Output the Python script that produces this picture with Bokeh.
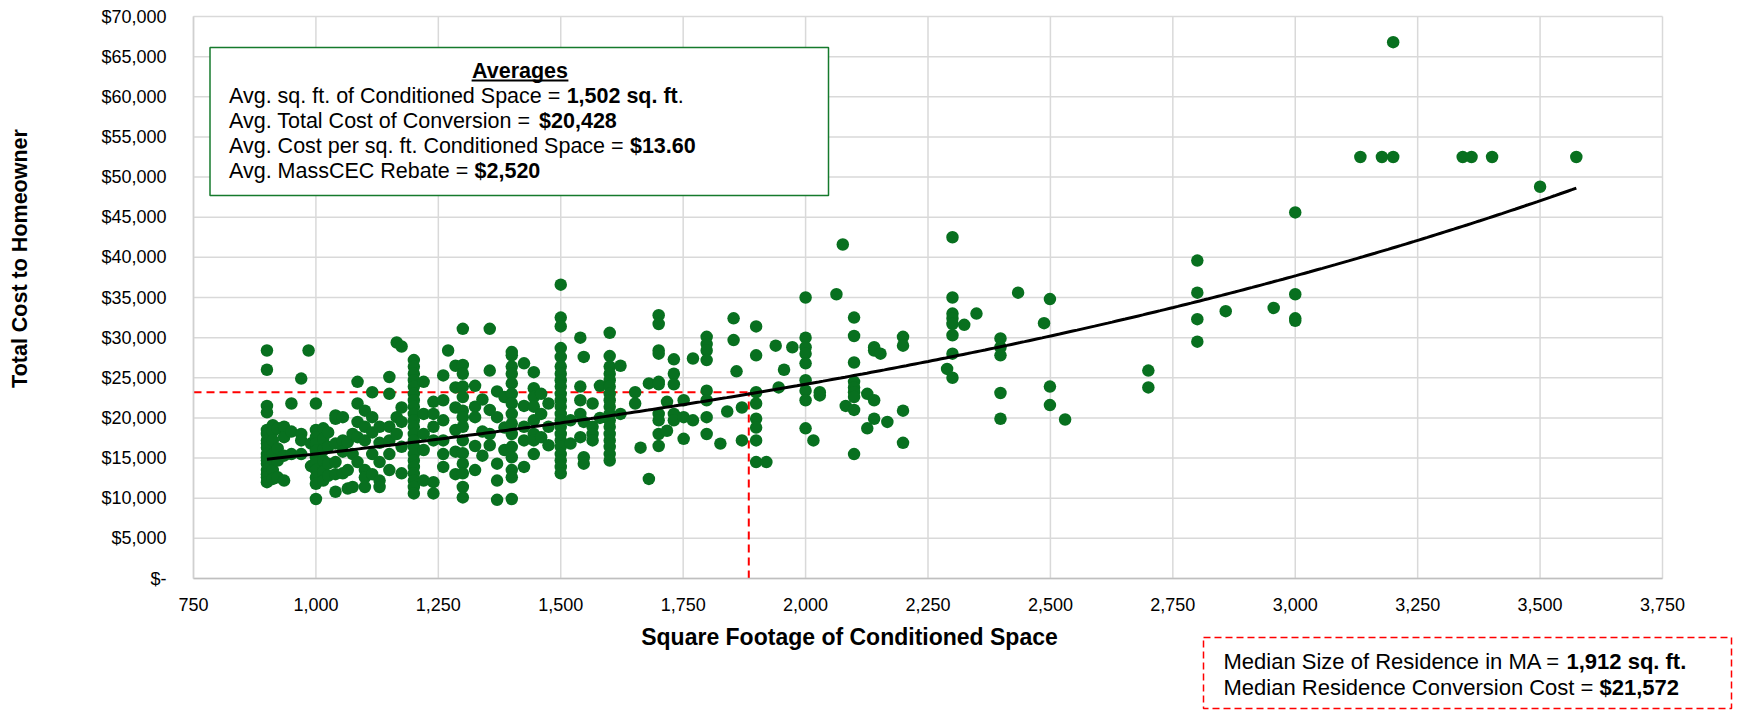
import numpy as np
from bokeh.plotting import figure
from bokeh.models import (Label, BoxAnnotation, Range1d, FixedTicker,
                          NumeralTickFormatter, CustomJSTickFormatter)
from bokeh.embed import file_html
from bokeh.resources import INLINE

# ---------------- data ----------------
# x position (sq. ft.) of each column of dots, and the costs ($) found in it
col_sqft = [900, 912, 922, 935, 950, 970, 985, 990, 1000, 1015, 1025, 1040, 1055, 1065, 1075,
            1085, 1100, 1115, 1130, 1150, 1165, 1175, 1200, 1220, 1240, 1260, 1270, 1285, 1300,
            1325, 1340, 1355, 1370, 1385, 1400, 1425, 1445, 1460, 1475, 1500, 1520, 1540, 1547,
            1565, 1580, 1600, 1622, 1652, 1663, 1680, 1700, 1717, 1731, 1751, 1770, 1798, 1826,
            1840, 1853, 1859, 1870, 1899, 1920, 1939, 1945, 1956, 1973, 2000, 2016, 2029, 2063,
            2076, 2082, 2099, 2126, 2140, 2153, 2167, 2199, 2289, 2300, 2324, 2349, 2398, 2434,
            2487, 2499, 2530, 2700, 2800, 2858, 2956, 3000, 3133, 3177, 3200, 3342, 3360, 3402,
            3500, 3574]
col_costs = [
    [28400, 26000, 21500, 20700, 18500, 18000, 17200, 16800, 16300, 15500, 15100, 14700, 14300, 13500, 13000, 12600, 12000],
    [19100, 18300, 17200, 15500, 13500, 12400],
    [18700, 16200, 14700, 12600],
    [18900, 17600, 15300, 12200],
    [21800, 18300, 15500],
    [24900, 18000, 17200, 15500],
    [28400],
    [16800, 14000],
    [21800, 18500, 17600, 16800, 15900, 15100, 14300, 13500, 12600, 11800, 9900],
    [18700, 17400, 16000, 14700, 13300, 12200],
    [18200, 16400, 14300, 12800],
    [20300, 19900, 16800, 14500, 13000, 10800],
    [20100, 17200, 15800, 13100],
    [17000, 13500, 11200],
    [18000, 15500, 11400],
    [24500, 21800, 19500, 17600, 14500],
    [20900, 18900, 17200, 13500, 12600, 11400],
    [23200, 20100, 18200, 15500, 13000],
    [18900, 16900, 14500, 12200, 11400],
    [25100, 23000, 18900, 17200, 15500, 13500],
    [29400, 20100, 18000],
    [28900, 21300, 19500, 16400, 13100],
    [27200, 26400, 25500, 24700, 23900, 23000, 22200, 21400, 20500, 19700, 18900, 18000, 17200, 16400, 15500, 14700, 13900, 13100, 12200, 11400, 10600],
    [24500, 20500, 18000, 16000, 12200],
    [22000, 20500, 18900, 17200, 12000, 10600],
    [25300, 22200, 19700, 17200, 15500, 13900],
    [28400],
    [26500, 23800, 21300, 18500, 15800, 13000],
    [31100, 26600, 25500, 23900, 22600, 20900, 20100, 18900, 17200, 15600, 14300, 13100, 11400, 10100],
    [24000, 21400, 20100, 16500, 13500],
    [22300, 18300, 15300],
    [31100, 25900, 21000, 18000, 16600],
    [23300, 20100, 14300, 12200, 9800],
    [22600, 18800, 16000],
    [28200, 27800, 26400, 25500, 24300, 23000, 21800, 20500, 19300, 18000, 16400, 15100, 13500, 12600, 9900],
    [26800, 21500, 18900, 17200, 13900],
    [25700, 23700, 22600, 21400, 19700, 18000, 17200, 15500],
    [23000, 20500, 17600],
    [21800, 18900, 16600],
    [36600, 32500, 31400, 28700, 27600, 26400, 25500, 24700, 23900, 23000, 22200, 21400, 20500, 19700, 18900, 18000, 17200, 16400, 15500, 14700, 13900, 13100],
    [19700, 16800],
    [30000, 23900, 22200, 20500, 17600],
    [27600, 19500, 15100, 14300],
    [21800, 18900, 18000, 17200],
    [24000, 20000],
    [30600, 27700, 26400, 25500, 24700, 23900, 23000, 22200, 21400, 20500, 19700, 18900, 18000, 17200, 16400, 15500, 14700],
    [26500, 20500],
    [23200, 21800],
    [16300],
    [24300, 12400],
    [32800, 31700, 28400, 28000, 24500, 24200, 20500, 19700, 18000, 16500],
    [22000, 18400],
    [27300, 25500, 24200, 20500, 19700],
    [22200, 20100, 17400],
    [27400, 19700],
    [30100, 29200, 28400, 27200, 23400, 22200, 20100, 18000],
    [16800],
    [20800],
    [32400, 29700],
    [25800],
    [21300, 17200],
    [31400, 27800, 23200, 21800, 19900, 18800, 17200, 14500],
    [14500],
    [29000],
    [23800],
    [26000],
    [28800],
    [35000, 30000, 28800, 28000, 26800, 24700, 23400, 22200, 18700],
    [17200],
    [23200, 22800],
    [35400],
    [41600],
    [21500],
    [32500, 30200, 26900, 24500, 23800, 23200, 22600, 21000, 15500],
    [23000, 18700],
    [28800, 28400, 22200, 19900],
    [28000],
    [19500],
    [30100, 29000, 20900, 16900],
    [26100],
    [42500, 35000, 33000, 32400, 31700, 30300, 28000, 25000],
    [31600],
    [33000],
    [29900, 28800, 27800, 23100, 19900],
    [35600],
    [31800],
    [34800, 23900, 21600],
    [19800],
    [25900, 23800],
    [39600, 35600, 32300, 29500],
    [33300],
    [33700],
    [45600, 35400, 32400, 32100],
    [52500],
    [52500],
    [66800, 52500],
    [52500],
    [52500],
    [52500],
    [48800],
    [52500],
]

x_ticks = list(range(750, 3751, 250))
y_ticks = list(range(0, 70001, 5000))

# exponential trendline y = a * exp(b * x)
trend_a = 9968
trend_b = 0.0004434

# red dashed guide lines, as drawn in the picture
guide_x = 1884
guide_y = 23200

avg_title = "Averages"
avg_lines = [
    ("Avg. sq. ft. of Conditioned Space = ", "1,502 sq. ft", "."),
    ("Avg. Total Cost of Conversion = ", "$20,428", ""),
    ("Avg. Cost per sq. ft. Conditioned Space = ", "$13.60", ""),
    ("Avg. MassCEC Rebate = ", "$2,520", ""),
]
median_lines = [
    ("Median Size of Residence in MA = ", "1,912 sq. ft.", ""),
    ("Median Residence Conversion Cost = ", "$21,572", ""),
]
x_title = "Square Footage of Conditioned Space"
y_title = "Total Cost to Homeowner"

sqft = [x for x, ys in zip(col_sqft, col_costs) for _ in ys]
cost = [y for ys in col_costs for y in ys]

# ---------------- layout ----------------
# The frame covers the whole canvas; the plot area (750..3750 x $0..$70,000)
# sits inside it at these pixel edges, and the axes are pinned to it.
W, H = 1754, 714
PL, PR, PT, PB = 193, 1662, 16, 578
FONT = "Liberation Sans"
GREEN = "#08701F"

x0, x1 = x_ticks[0], x_ticks[-1]
y0, y1 = y_ticks[0], y_ticks[-1]
kx = (PR - PL) / (x1 - x0)
ky = (PB - PT) / (y1 - y0)

p = figure(width=W, height=H,
           x_range=Range1d(x0 - PL / kx, x1 + (W - PR) / kx),
           y_range=Range1d(y0 - (H - PB) / ky, y1 + PT / ky),
           output_backend="svg", toolbar_location=None,
           min_border_left=0, min_border_right=0, min_border_top=0, min_border_bottom=0)
p.outline_line_color = None
p.background_fill_color = "white"
p.border_fill_color = "white"
p.grid.grid_line_color = None

# grid lines limited to the plot area
p.segment(x0=x_ticks, y0=[y0] * len(x_ticks), x1=x_ticks, y1=[y1] * len(x_ticks),
          line_color="#d9d9d9", line_width=1.5, level="underlay")
p.segment(x0=[x0] * len(y_ticks), y0=y_ticks, x1=[x1] * len(y_ticks), y1=y_ticks,
          line_color="#d9d9d9", line_width=1.5, level="underlay")

p.xaxis.fixed_location = y0
p.yaxis.fixed_location = x0
p.xaxis.bounds = (x0, x1)
p.yaxis.bounds = (y0, y1)
p.xaxis.ticker = FixedTicker(ticks=x_ticks, minor_ticks=[])
p.yaxis.ticker = FixedTicker(ticks=y_ticks, minor_ticks=[])
p.xaxis.formatter = NumeralTickFormatter(format="0,0")
p.yaxis.formatter = CustomJSTickFormatter(
    code="return tick == 0 ? '$-' : '$' + tick.toLocaleString('en-US');")
for ax in (p.xaxis[0], p.yaxis[0]):
    ax.major_tick_line_color = None
    ax.minor_tick_line_color = None
    ax.major_tick_out = 0
    ax.major_tick_in = 0
    ax.major_label_text_font = FONT
    ax.major_label_text_font_size = "18px"
    ax.major_label_text_color = "black"
p.xaxis.axis_line_color = "#bfbfbf"
p.xaxis.axis_line_width = 1.5
p.yaxis.axis_line_color = "#d0d0d0"
p.yaxis.axis_line_width = 1.5
p.xaxis.major_label_standoff = 19
p.yaxis.major_label_standoff = 27

# ---------------- marks ----------------
p.line([x0, guide_x], [guide_y, guide_y], line_color="red", line_width=2, line_dash="8 5")
p.line([guide_x, guide_x], [y0, guide_y], line_color="red", line_width=2, line_dash="8 5")
p.scatter(sqft, cost, size=12.5, fill_color=GREEN, line_color=None)
tx = np.linspace(min(sqft), max(sqft), 300)
p.line(tx, trend_a * np.exp(trend_b * tx), line_color="black", line_width=3)

# ---------------- annotations (positions in picture pixels) ----------------
def SX(xr):
    return xr

def SY(yr):
    return H - yr

REG_W = {' ': 278, '$': 556, ',': 278, '-': 333, '.': 278, '=': 584, 'A': 667, 'C': 722, 'E': 667,
         'M': 833, 'R': 722, 'S': 667, 'T': 611, 'a': 556, 'b': 556, 'c': 500, 'd': 556, 'e': 556,
         'f': 278, 'g': 556, 'h': 556, 'i': 222, 'l': 222, 'm': 833, 'n': 556, 'o': 556, 'p': 556,
         'q': 556, 'r': 333, 's': 500, 't': 278, 'u': 556, 'v': 500, 'z': 500}
BOLD_W = {' ': 278, '$': 556, ',': 278, '.': 278, '-': 333, 'A': 722, 'a': 556, 'e': 556, 'f': 333,
          'g': 611, 'q': 611, 'r': 389, 's': 556, 't': 333, 'v': 556}

def text_w(s, size, bold=False):
    tbl = BOLD_W if bold else REG_W
    return sum(556 if ch.isdigit() else tbl.get(ch, 556) for ch in s) * size / 1000.0

def add_text(xr, yr, text, size, bold=False, align="left", angle=0.0):
    p.add_layout(Label(x=SX(xr), y=SY(yr), x_units="screen", y_units="screen", text=text,
                       text_font=FONT, text_font_size=f"{size}px",
                       text_font_style="bold" if bold else "normal",
                       text_align=align, text_baseline="middle", text_color="black",
                       angle=angle))

def add_mixed(xr, yr, parts, size):
    x = xr
    for part, bold in zip(parts, (False, True, False)):
        if part:
            add_text(x, yr, part, size, bold)
            x += text_w(part, size, bold)

def add_box(l, t, r, b, **kw):
    p.add_layout(BoxAnnotation(left=SX(l), right=SX(r), top=SY(t), bottom=SY(b),
                               left_units="screen", right_units="screen",
                               top_units="screen", bottom_units="screen", **kw))

# Averages box
AVG_SIZE = 21.5
add_box(209.5, 47, 828, 195, fill_color="white", fill_alpha=1.0,
        line_color="#157A2C", line_alpha=1.0, line_width=1.5)
add_text(519.5, 70.5, avg_title, AVG_SIZE, bold=True, align="center")
uw = text_w(avg_title, AVG_SIZE, True)
add_box(519.5 - uw / 2, 79, 519.5 + uw / 2, 81, fill_color="black", fill_alpha=1.0,
        line_color=None)
for i, parts in enumerate(avg_lines):
    add_mixed(228.5, 95 + 25 * i, parts, AVG_SIZE)

# Median box (below the plot, right)
MED_SIZE = 22
add_box(1203, 637, 1731, 708, fill_color="white", fill_alpha=1.0,
        line_color="red", line_alpha=1.0, line_width=1.5, line_dash="7 4")
for i, parts in enumerate(median_lines):
    add_mixed(1223, 661 + 26 * i, parts, MED_SIZE)

# Axis titles
add_text(849, 636, x_title, 23, bold=True, align="center")
add_text(19.7, 258, y_title, 21.5, bold=True, align="center", angle=np.pi / 2)

open("out.html", "w").write(file_html(p, INLINE))
